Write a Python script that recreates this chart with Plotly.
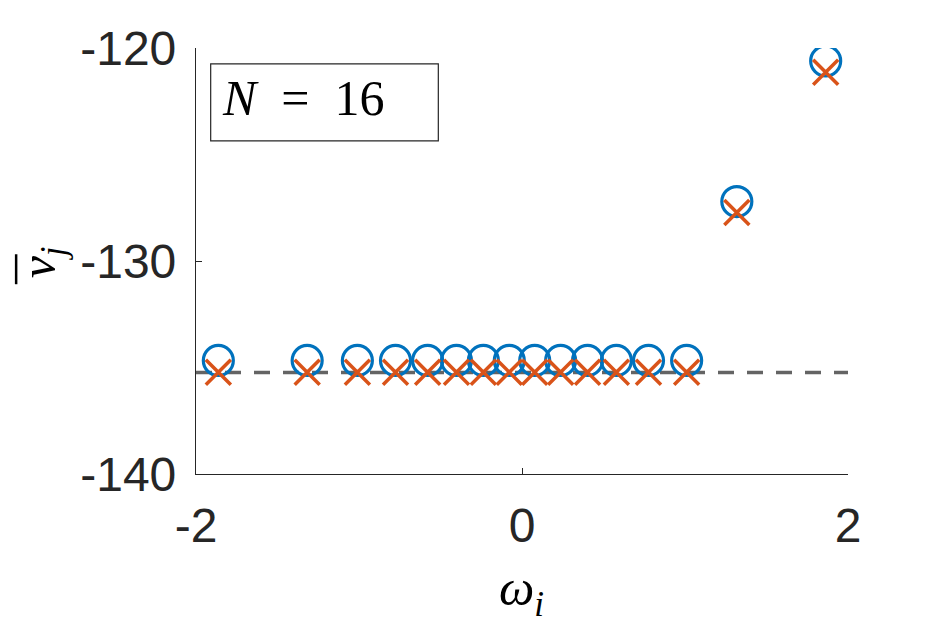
import plotly.graph_objects as go

# omega_i (x) and nu_bar_j values
omega = [-1.863, -1.318, -1.010, -0.776, -0.579, -0.402, -0.237, -0.078,
         0.078, 0.237, 0.402, 0.579, 0.776, 1.010, 1.318, 1.863]
nu_circle = [-134.67] * 14 + [-127.21, -120.61]
nu_cross = [-135.22] * 14 + [-127.72, -121.14]
nu_ref = -135.24
x_ticks = [-2, 0, 2]
y_ticks = [-140, -130, -120]

# page has an 8px body margin, so the figure is drawn 8px in from the corner
OFF = 8
W, H = 938 - OFF, 625 - OFF
L, R, T, B = 196 - OFF, 848.5 - OFF, 47.5 - OFF, 474 - OFF
AX_COL = "#262626"


def px_x(px):
    # px is a window pixel
    return (px - OFF - L) / (R - L)


def px_y(py):
    return (B - (py - OFF)) / (B - T)


fig = go.Figure()

# dashed reference line over the whole x range
fig.add_trace(go.Scatter(
    x=[x_ticks[0], x_ticks[-1]], y=[nu_ref, nu_ref],
    mode="lines",
    line=dict(color="rgb(100,100,100)", width=3.5, dash="16px,13px"),
    showlegend=False, hoverinfo="skip",
))
fig.add_trace(go.Scatter(
    x=omega, y=nu_circle, mode="markers",
    marker=dict(symbol="circle-open", size=30, color="#0072BD",
                line=dict(width=3.2, color="#0072BD")),
    showlegend=False,
))
fig.add_trace(go.Scatter(
    x=omega, y=nu_cross, mode="markers",
    marker=dict(symbol="x-thin-open", size=25, color="#D95319",
                line=dict(width=3.5, color="#D95319")),
    showlegend=False,
))

tick_font = dict(family="Liberation Sans, Arial, sans-serif", size=48, color=AX_COL)
common = dict(showgrid=False, zeroline=False, showline=True, linecolor=AX_COL,
              linewidth=1.2, ticks="inside", ticklen=6, tickcolor=AX_COL,
              tickwidth=1.2, tickfont=tick_font, mirror=False)

fig.update_xaxes(range=[x_ticks[0], x_ticks[-1]], tickvals=x_ticks,
                 ticktext=[str(v) for v in x_ticks], ticklabelstandoff=9, **common)
fig.update_yaxes(range=[y_ticks[0], y_ticks[-1]], tickvals=y_ticks,
                 ticktext=[str(v) for v in y_ticks], ticklabelstandoff=9, **common)

# "legend" box with N = 16
fig.add_shape(type="rect", xref="paper", yref="paper",
              x0=px_x(210.7), x1=px_x(438.5), y0=px_y(140.5), y1=px_y(63.3),
              line=dict(color=AX_COL, width=1.2), fillcolor="white")

math_font = dict(family="Liberation Serif, Times New Roman, serif", size=50, color="black")
fig.add_annotation(xref="paper", yref="paper", x=px_x(220), y=px_y(98),
                   xanchor="left", yanchor="middle", showarrow=False,
                   text="<i>N</i>\u00a0\u00a0=\u00a0\u00a016", font=math_font)

# axis titles
fig.add_annotation(xref="paper", yref="paper", x=px_x(522), y=px_y(592),
                   xanchor="center", yanchor="middle", showarrow=False,
                   text="<i>ω</i><sub><i>i</i></sub>", font=math_font)
fig.add_annotation(xref="paper", yref="paper", x=px_x(42), y=px_y(262),
                   xanchor="center", yanchor="middle", showarrow=False,
                   textangle=-90,
                   text="<i>ν</i><sub><i>j</i></sub>", font=math_font)
# bar over the nu (rotated title, so it is a vertical stroke to its left)
fig.add_shape(type="line", xref="paper", yref="paper",
              x0=px_x(16), x1=px_x(16), y0=px_y(284), y1=px_y(254),
              line=dict(color="black", width=2.5))

fig.update_layout(
    width=W, height=H,
    margin=dict(l=L, r=W - R, t=T, b=H - B, autoexpand=False),
    paper_bgcolor="white", plot_bgcolor="white",
    showlegend=False,
)

fig.write_html("out.html")
